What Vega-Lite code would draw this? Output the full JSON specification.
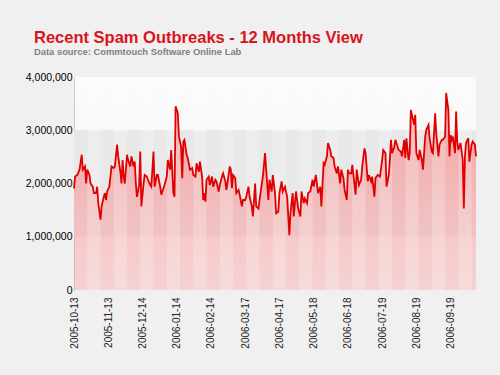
{
  "$schema": "https://vega.github.io/schema/vega-lite/v6.json",
  "width": 402,
  "height": 213,
  "autosize": "none",
  "padding": {"left": 74, "top": 77, "right": 24, "bottom": 85},
  "background": "#f0f0f0",
  "title": {
    "text": "Recent Spam Outbreaks - 12 Months View",
    "subtitle": "Data source: Commtouch Software Online Lab",
    "anchor": "start",
    "frame": "group",
    "dx": -40,
    "offset": 16,
    "font": "Liberation Sans",
    "fontSize": 16.5,
    "fontWeight": "bold",
    "color": "#d9141b",
    "subtitleFont": "Liberation Sans",
    "subtitleFontSize": 9.4,
    "subtitleFontWeight": "bold",
    "subtitleColor": "#808080",
    "subtitlePadding": 1
  },
  "config": {
    "view": {"stroke": null, "fill": {"gradient": "linear", "x1": 0, "y1": 0, "x2": 0, "y2": 1, "stops": [{"offset": 0, "color": "#fbfbfb"}, {"offset": 1, "color": "#efefef"}]}},
    "font": "Liberation Sans",
    "axisX": {"labelOverlap": false, "labelBound": false},
    "axis": {"labelOverlap": false}
  },
  "datasets": {
    "spam": [
      {"date": "2005-10-13", "v": 1910000},
      {"date": "2005-10-14", "v": 2130000},
      {"date": "2005-10-16", "v": 2160000},
      {"date": "2005-10-18", "v": 2260000},
      {"date": "2005-10-20", "v": 2540000},
      {"date": "2005-10-21", "v": 2260000},
      {"date": "2005-10-23", "v": 2320000},
      {"date": "2005-10-24", "v": 2000000},
      {"date": "2005-10-25", "v": 2260000},
      {"date": "2005-10-27", "v": 2160000},
      {"date": "2005-10-28", "v": 2000000},
      {"date": "2005-10-30", "v": 1940000},
      {"date": "2005-10-31", "v": 1820000},
      {"date": "2005-11-02", "v": 1820000},
      {"date": "2005-11-03", "v": 1940000},
      {"date": "2005-11-04", "v": 1630000},
      {"date": "2005-11-06", "v": 1320000},
      {"date": "2005-11-07", "v": 1570000},
      {"date": "2005-11-09", "v": 1750000},
      {"date": "2005-11-10", "v": 1820000},
      {"date": "2005-11-11", "v": 1690000},
      {"date": "2005-11-12", "v": 1850000},
      {"date": "2005-11-14", "v": 1940000},
      {"date": "2005-11-16", "v": 2320000},
      {"date": "2005-11-18", "v": 2290000},
      {"date": "2005-11-19", "v": 2320000},
      {"date": "2005-11-21", "v": 2730000},
      {"date": "2005-11-22", "v": 2510000},
      {"date": "2005-11-24", "v": 2220000},
      {"date": "2005-11-25", "v": 2000000},
      {"date": "2005-11-26", "v": 2440000},
      {"date": "2005-11-27", "v": 2130000},
      {"date": "2005-11-28", "v": 2000000},
      {"date": "2005-11-30", "v": 2540000},
      {"date": "2005-12-01", "v": 2440000},
      {"date": "2005-12-03", "v": 2320000},
      {"date": "2005-12-04", "v": 2510000},
      {"date": "2005-12-06", "v": 2320000},
      {"date": "2005-12-07", "v": 2410000},
      {"date": "2005-12-08", "v": 2000000},
      {"date": "2005-12-09", "v": 1750000},
      {"date": "2005-12-11", "v": 1970000},
      {"date": "2005-12-12", "v": 2600000},
      {"date": "2005-12-13", "v": 1570000},
      {"date": "2005-12-15", "v": 2000000},
      {"date": "2005-12-16", "v": 2160000},
      {"date": "2005-12-18", "v": 2130000},
      {"date": "2005-12-19", "v": 2070000},
      {"date": "2005-12-21", "v": 1970000},
      {"date": "2005-12-22", "v": 1940000},
      {"date": "2005-12-24", "v": 2600000},
      {"date": "2005-12-25", "v": 1940000},
      {"date": "2005-12-27", "v": 2160000},
      {"date": "2005-12-28", "v": 2160000},
      {"date": "2005-12-30", "v": 1940000},
      {"date": "2005-12-31", "v": 1790000},
      {"date": "2006-01-02", "v": 1910000},
      {"date": "2006-01-03", "v": 1970000},
      {"date": "2006-01-05", "v": 2130000},
      {"date": "2006-01-06", "v": 2440000},
      {"date": "2006-01-08", "v": 2260000},
      {"date": "2006-01-09", "v": 2630000},
      {"date": "2006-01-11", "v": 1820000},
      {"date": "2006-01-12", "v": 1750000},
      {"date": "2006-01-13", "v": 3450000},
      {"date": "2006-01-15", "v": 3320000},
      {"date": "2006-01-16", "v": 2880000},
      {"date": "2006-01-18", "v": 2690000},
      {"date": "2006-01-19", "v": 2100000},
      {"date": "2006-01-20", "v": 2790000},
      {"date": "2006-01-21", "v": 2820000},
      {"date": "2006-01-23", "v": 2540000},
      {"date": "2006-01-24", "v": 2480000},
      {"date": "2006-01-26", "v": 2260000},
      {"date": "2006-01-28", "v": 2290000},
      {"date": "2006-01-29", "v": 2160000},
      {"date": "2006-01-31", "v": 2130000},
      {"date": "2006-02-01", "v": 2380000},
      {"date": "2006-02-03", "v": 2220000},
      {"date": "2006-02-04", "v": 2410000},
      {"date": "2006-02-06", "v": 2130000},
      {"date": "2006-02-07", "v": 1690000},
      {"date": "2006-02-08", "v": 1820000},
      {"date": "2006-02-09", "v": 1660000},
      {"date": "2006-02-10", "v": 2070000},
      {"date": "2006-02-12", "v": 2130000},
      {"date": "2006-02-13", "v": 1970000},
      {"date": "2006-02-15", "v": 2130000},
      {"date": "2006-02-16", "v": 1940000},
      {"date": "2006-02-18", "v": 2070000},
      {"date": "2006-02-19", "v": 2040000},
      {"date": "2006-02-21", "v": 1850000},
      {"date": "2006-02-22", "v": 1970000},
      {"date": "2006-02-24", "v": 2130000},
      {"date": "2006-02-25", "v": 2190000},
      {"date": "2006-02-27", "v": 2040000},
      {"date": "2006-02-28", "v": 1880000},
      {"date": "2006-03-02", "v": 2160000},
      {"date": "2006-03-03", "v": 2320000},
      {"date": "2006-03-04", "v": 2260000},
      {"date": "2006-03-05", "v": 1910000},
      {"date": "2006-03-06", "v": 2160000},
      {"date": "2006-03-08", "v": 2100000},
      {"date": "2006-03-09", "v": 1820000},
      {"date": "2006-03-11", "v": 1880000},
      {"date": "2006-03-12", "v": 1790000},
      {"date": "2006-03-14", "v": 1570000},
      {"date": "2006-03-15", "v": 1690000},
      {"date": "2006-03-17", "v": 1690000},
      {"date": "2006-03-18", "v": 1750000},
      {"date": "2006-03-20", "v": 1940000},
      {"date": "2006-03-21", "v": 1750000},
      {"date": "2006-03-23", "v": 1570000},
      {"date": "2006-03-24", "v": 1380000},
      {"date": "2006-03-26", "v": 2000000},
      {"date": "2006-03-27", "v": 1570000},
      {"date": "2006-03-29", "v": 1530000},
      {"date": "2006-03-30", "v": 1690000},
      {"date": "2006-04-02", "v": 2130000},
      {"date": "2006-04-04", "v": 2570000},
      {"date": "2006-04-05", "v": 2260000},
      {"date": "2006-04-07", "v": 1690000},
      {"date": "2006-04-08", "v": 2070000},
      {"date": "2006-04-10", "v": 1850000},
      {"date": "2006-04-11", "v": 2160000},
      {"date": "2006-04-13", "v": 1820000},
      {"date": "2006-04-14", "v": 1440000},
      {"date": "2006-04-16", "v": 1470000},
      {"date": "2006-04-17", "v": 1820000},
      {"date": "2006-04-19", "v": 2040000},
      {"date": "2006-04-20", "v": 1850000},
      {"date": "2006-04-22", "v": 1940000},
      {"date": "2006-04-24", "v": 1750000},
      {"date": "2006-04-26", "v": 1030000},
      {"date": "2006-04-27", "v": 1440000},
      {"date": "2006-04-29", "v": 1820000},
      {"date": "2006-04-30", "v": 1380000},
      {"date": "2006-05-02", "v": 1850000},
      {"date": "2006-05-04", "v": 1530000},
      {"date": "2006-05-06", "v": 1380000},
      {"date": "2006-05-07", "v": 1850000},
      {"date": "2006-05-09", "v": 1630000},
      {"date": "2006-05-10", "v": 1720000},
      {"date": "2006-05-12", "v": 1630000},
      {"date": "2006-05-13", "v": 1820000},
      {"date": "2006-05-15", "v": 1850000},
      {"date": "2006-05-17", "v": 2070000},
      {"date": "2006-05-18", "v": 1940000},
      {"date": "2006-05-20", "v": 2160000},
      {"date": "2006-05-22", "v": 1820000},
      {"date": "2006-05-24", "v": 1940000},
      {"date": "2006-05-25", "v": 1570000},
      {"date": "2006-05-27", "v": 2380000},
      {"date": "2006-05-28", "v": 2350000},
      {"date": "2006-05-30", "v": 2510000},
      {"date": "2006-05-31", "v": 2760000},
      {"date": "2006-06-02", "v": 2630000},
      {"date": "2006-06-03", "v": 2510000},
      {"date": "2006-06-05", "v": 2480000},
      {"date": "2006-06-06", "v": 2320000},
      {"date": "2006-06-08", "v": 2190000},
      {"date": "2006-06-09", "v": 2320000},
      {"date": "2006-06-11", "v": 2000000},
      {"date": "2006-06-12", "v": 2260000},
      {"date": "2006-06-14", "v": 2100000},
      {"date": "2006-06-15", "v": 1880000},
      {"date": "2006-06-17", "v": 1690000},
      {"date": "2006-06-18", "v": 2260000},
      {"date": "2006-06-19", "v": 2190000},
      {"date": "2006-06-21", "v": 2190000},
      {"date": "2006-06-22", "v": 2350000},
      {"date": "2006-06-23", "v": 2160000},
      {"date": "2006-06-25", "v": 1790000},
      {"date": "2006-06-26", "v": 2260000},
      {"date": "2006-06-28", "v": 1970000},
      {"date": "2006-06-30", "v": 2070000},
      {"date": "2006-07-01", "v": 2320000},
      {"date": "2006-07-03", "v": 2660000},
      {"date": "2006-07-04", "v": 2570000},
      {"date": "2006-07-06", "v": 2040000},
      {"date": "2006-07-07", "v": 2160000},
      {"date": "2006-07-09", "v": 2040000},
      {"date": "2006-07-10", "v": 2130000},
      {"date": "2006-07-12", "v": 1750000},
      {"date": "2006-07-13", "v": 2100000},
      {"date": "2006-07-14", "v": 2130000},
      {"date": "2006-07-15", "v": 2160000},
      {"date": "2006-07-17", "v": 2130000},
      {"date": "2006-07-19", "v": 2440000},
      {"date": "2006-07-20", "v": 2630000},
      {"date": "2006-07-22", "v": 2570000},
      {"date": "2006-07-23", "v": 1940000},
      {"date": "2006-07-25", "v": 2160000},
      {"date": "2006-07-26", "v": 2440000},
      {"date": "2006-07-27", "v": 2820000},
      {"date": "2006-07-28", "v": 2570000},
      {"date": "2006-07-30", "v": 2690000},
      {"date": "2006-07-31", "v": 2820000},
      {"date": "2006-08-02", "v": 2690000},
      {"date": "2006-08-03", "v": 2630000},
      {"date": "2006-08-05", "v": 2600000},
      {"date": "2006-08-06", "v": 2510000},
      {"date": "2006-08-08", "v": 2820000},
      {"date": "2006-08-09", "v": 2480000},
      {"date": "2006-08-10", "v": 2850000},
      {"date": "2006-08-12", "v": 2440000},
      {"date": "2006-08-13", "v": 2570000},
      {"date": "2006-08-14", "v": 3380000},
      {"date": "2006-08-16", "v": 3200000},
      {"date": "2006-08-17", "v": 3100000},
      {"date": "2006-08-18", "v": 3290000},
      {"date": "2006-08-19", "v": 2570000},
      {"date": "2006-08-21", "v": 2440000},
      {"date": "2006-08-22", "v": 2630000},
      {"date": "2006-08-24", "v": 2440000},
      {"date": "2006-08-25", "v": 2260000},
      {"date": "2006-08-27", "v": 2880000},
      {"date": "2006-08-28", "v": 3010000},
      {"date": "2006-08-30", "v": 3100000},
      {"date": "2006-08-31", "v": 2850000},
      {"date": "2006-09-02", "v": 2600000},
      {"date": "2006-09-03", "v": 2570000},
      {"date": "2006-09-05", "v": 3320000},
      {"date": "2006-09-06", "v": 2940000},
      {"date": "2006-09-08", "v": 2510000},
      {"date": "2006-09-09", "v": 2730000},
      {"date": "2006-09-11", "v": 2820000},
      {"date": "2006-09-12", "v": 2820000},
      {"date": "2006-09-14", "v": 2880000},
      {"date": "2006-09-15", "v": 3700000},
      {"date": "2006-09-17", "v": 3380000},
      {"date": "2006-09-18", "v": 2510000},
      {"date": "2006-09-19", "v": 2910000},
      {"date": "2006-09-20", "v": 2820000},
      {"date": "2006-09-21", "v": 2880000},
      {"date": "2006-09-23", "v": 2570000},
      {"date": "2006-09-24", "v": 3350000},
      {"date": "2006-09-25", "v": 2790000},
      {"date": "2006-09-26", "v": 2630000},
      {"date": "2006-09-28", "v": 2760000},
      {"date": "2006-09-30", "v": 2440000},
      {"date": "2006-10-01", "v": 1530000},
      {"date": "2006-10-02", "v": 2510000},
      {"date": "2006-10-03", "v": 2760000},
      {"date": "2006-10-05", "v": 2850000},
      {"date": "2006-10-06", "v": 2410000},
      {"date": "2006-10-08", "v": 2730000},
      {"date": "2006-10-09", "v": 2790000},
      {"date": "2006-10-11", "v": 2730000},
      {"date": "2006-10-12", "v": 2510000}
    ],
    "stripes": [
      {"start": "2005-10-25", "end": "2005-11-06"},
      {"start": "2005-11-18", "end": "2005-11-30"},
      {"start": "2005-12-12", "end": "2005-12-24"},
      {"start": "2006-01-05", "end": "2006-01-17"},
      {"start": "2006-01-29", "end": "2006-02-10"},
      {"start": "2006-02-22", "end": "2006-03-06"},
      {"start": "2006-03-18", "end": "2006-03-30"},
      {"start": "2006-04-11", "end": "2006-04-23"},
      {"start": "2006-05-05", "end": "2006-05-17"},
      {"start": "2006-05-29", "end": "2006-06-10"},
      {"start": "2006-06-22", "end": "2006-07-04"},
      {"start": "2006-07-16", "end": "2006-07-28"},
      {"start": "2006-08-09", "end": "2006-08-21"},
      {"start": "2006-09-02", "end": "2006-09-14"},
      {"start": "2006-09-26", "end": "2006-10-08"}
    ],
    "band": [
      {"low": 1000000, "high": 3000000}
    ]
  },
  "layer": [
    {
      "data": {"name": "band"},
      "mark": {"type": "rect", "color": "#e8e8e8"},
      "encoding": {
        "y": {
          "field": "low",
          "type": "quantitative",
          "scale": {"domain": [0, 4000000], "nice": false},
          "axis": {
            "title": null,
            "values": [0, 1000000, 2000000, 3000000, 4000000],
            "format": ",.0f",
            "labelFontSize": 10.5,
            "labelColor": "#000000",
            "labelPadding": 2,
            "ticks": false,
            "grid": false,
            "domainColor": "#cccccc"
          }
        },
        "y2": {"field": "high"}
      }
    },
    {
      "data": {"name": "spam"},
      "mark": {
        "type": "area",
        "color": {"gradient": "linear", "x1": 0, "y1": 0, "x2": 0, "y2": 1, "stops": [{"offset": 0, "color": "rgba(255,100,100,0.55)"}, {"offset": 1, "color": "rgba(255,150,150,0.33)"}]}
      },
      "encoding": {
        "x": {
          "field": "date",
          "type": "temporal",
          "scale": {"type": "utc", "nice": false, "padding": 0},
          "axis": {
            "title": null,
            "values": [
              {"year": 2005, "month": 10, "date": 13, "utc": true},
              {"year": 2005, "month": 11, "date": 13, "utc": true},
              {"year": 2005, "month": 12, "date": 14, "utc": true},
              {"year": 2006, "month": 1, "date": 14, "utc": true},
              {"year": 2006, "month": 2, "date": 14, "utc": true},
              {"year": 2006, "month": 3, "date": 17, "utc": true},
              {"year": 2006, "month": 4, "date": 17, "utc": true},
              {"year": 2006, "month": 5, "date": 18, "utc": true},
              {"year": 2006, "month": 6, "date": 18, "utc": true},
              {"year": 2006, "month": 7, "date": 19, "utc": true},
              {"year": 2006, "month": 8, "date": 19, "utc": true},
              {"year": 2006, "month": 9, "date": 19, "utc": true}
            ],
            "tickCount": 24,
            "format": "%Y-%m-%d",
            "labelAngle": 270,
            "labelFontSize": 10,
            "labelColor": "#222222",
            "labelPadding": 7,
            "ticks": false,
            "domain": false,
            "grid": false,
            "labelOverlap": false
          }
        },
        "y": {"field": "v", "type": "quantitative"}
      }
    },
    {
      "data": {"name": "stripes"},
      "mark": {"type": "rect", "color": "#ffffff", "opacity": 0.22},
      "encoding": {
        "x": {"field": "start", "type": "temporal"},
        "x2": {"field": "end"},
        "y": {"datum": 0, "type": "quantitative"},
        "y2": {"datum": 4000000}
      }
    },
    {
      "data": {"name": "spam"},
      "mark": {"type": "line", "color": "#e00000", "strokeWidth": 1.8},
      "encoding": {
        "x": {"field": "date", "type": "temporal"},
        "y": {"field": "v", "type": "quantitative"}
      }
    }
  ]
}
